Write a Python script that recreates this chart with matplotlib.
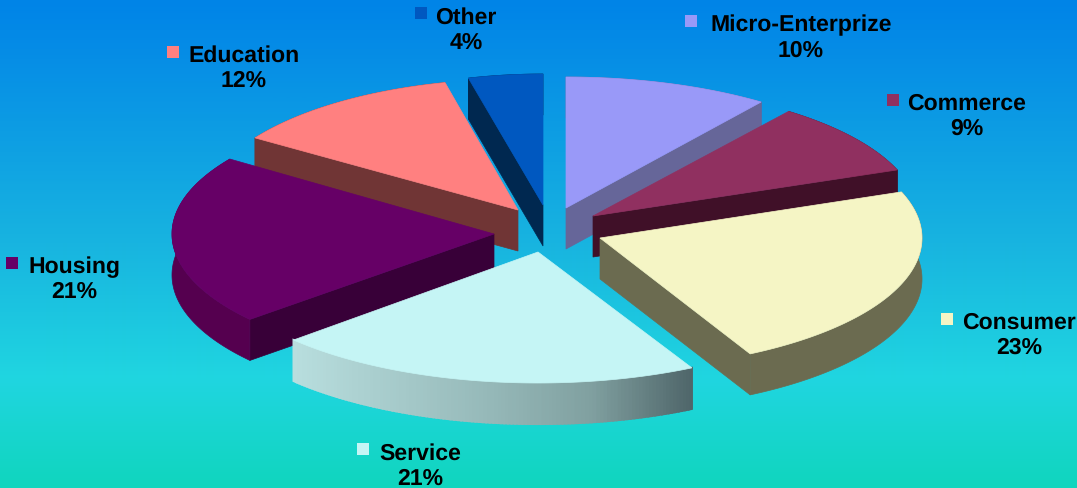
import numpy as np
import matplotlib.pyplot as plt
from matplotlib.colors import LinearSegmentedColormap
from matplotlib.patches import Rectangle

names = ['Micro-Enterprize', 'Commerce', 'Consumer', 'Service', 'Housing', 'Education', 'Other']
shares = [10, 9, 23, 21, 21, 12, 4]

# look of each slice
top_colors = ['#9999F8', '#903060', '#F5F5C5', '#C5F5F5', '#660066', '#FF8080', '#0058C0']
rim_colors = ['#666699', '#401028', '#6B6B50', None, '#55004F', '#703535', '#002850']
cut_colors = ['#666699', '#401028', '#6B6B50', '#607878', '#380038', '#703535', '#002850']

# exploded slice layout, in pixels (spin nudges a slice around its apex, in degrees)
apex_x = [566, 593, 600, 538, 494, 518, 543]
apex_y = [209, 217, 239, 253, 235, 211, 206]
radius_x = [332, 325, 322, 330, 322, 315, 300]
spin = [0, 1, 1, 1, 2.5, 1, 0]
radius_y = 131
depth = 41
draw_order = [6, 0, 5, 1, 4, 2, 3]

# legend swatch corner, label centre, first and second text baseline
swatch_pos = [(685, 16), (887, 95), (941, 314), (357, 444), (6, 258), (167, 47), (415, 8)]
label_x = [801, 967, 1019, 420, 74, 244, 466]
label_y = [(31, 57), (110, 135), (329, 354), (460, 485), (273, 298), (62, 87), (24, 49)]

plt.rcParams['font.family'] = ['Liberation Sans', 'DejaVu Sans']
plt.rcParams['text.hinting'] = 'none'
plt.rcParams['text.hinting_factor'] = 1

fig = plt.figure(figsize=(10.77, 4.89), dpi=100)
ax = fig.add_axes([0, 0, 1, 1])
ax.set_xlim(0, 1077)
ax.set_ylim(489, 0)
ax.axis('off')

# background fade
bg = LinearSegmentedColormap.from_list('bg', [(0, '#0084E8'), (0.1, '#058CE6'), (0.5, '#18B4E0'),
                                              (0.78, '#20D6E0'), (1, '#10D5BE')])
ax.imshow(np.linspace(0, 1, 489)[:, None], cmap=bg, extent=(0, 1077, 489, 0), aspect='auto', zorder=0)

service_rim = LinearSegmentedColormap.from_list('rim', [(0, '#B8DEDE'), (0.5, '#95B8B8'),
                                                        (0.75, '#80A0A0'), (1, '#4F666A')])

edges = np.cumsum([0] + shares) * 3.6
z = 1
for i in draw_order:
    t = np.radians(np.linspace(edges[i], edges[i + 1], 120) + spin[i])
    x = apex_x[i] + radius_x[i] * np.sin(t)
    y = apex_y[i] - radius_y * np.cos(t)

    # flat cut faces, only those turned towards the viewer
    for k, sign in ((0, -1), (-1, 1)):
        if np.cos(t[k] + sign * np.pi / 2) < 0:
            ax.fill([apex_x[i], x[k], x[k], apex_x[i]],
                    [apex_y[i], y[k], y[k] + depth, apex_y[i] + depth],
                    color=cut_colors[i], lw=0.5, zorder=z)

    # outer rim, Service fades from left to right in thin strips
    if rim_colors[i] is None:
        for j in range(len(t) - 1):
            c = service_rim((x[j] - x.min()) / (x.max() - x.min()))
            ax.fill([x[j], x[j + 1], x[j + 1], x[j]],
                    [y[j], y[j + 1], y[j + 1] + depth, y[j] + depth],
                    color=c, lw=1.5, zorder=z)
    else:
        ax.fill(np.r_[x, x[::-1]], np.r_[y, y[::-1] + depth], color=rim_colors[i], lw=0.5, zorder=z)

    ax.fill(np.r_[apex_x[i], x], np.r_[apex_y[i], y], color=top_colors[i], lw=0.5, zorder=z)
    z += 1

for i, name in enumerate(names):
    ax.add_patch(Rectangle(swatch_pos[i], 12, 12, color=top_colors[i], lw=0, zorder=20))
    ax.text(label_x[i], label_y[i][0], name, fontsize=16.3, fontweight='bold', ha='center',
            va='baseline', color='black', zorder=21)
    ax.text(label_x[i], label_y[i][1], f'{shares[i]}%', fontsize=16.3, fontweight='bold', ha='center',
            va='baseline', color='black', zorder=21)

fig.savefig('out.png', dpi=100)
